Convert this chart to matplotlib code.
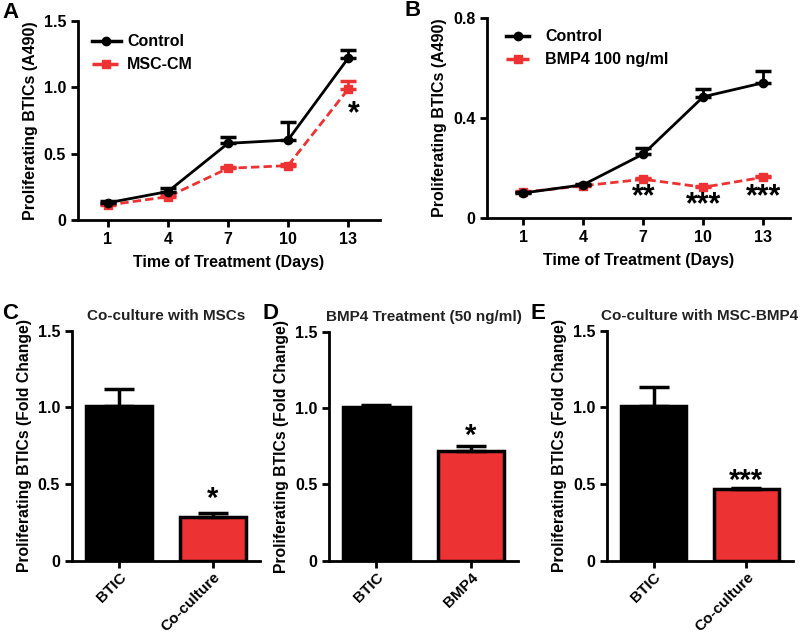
import numpy as np
import matplotlib
matplotlib.use("Agg")
import matplotlib.pyplot as plt
from matplotlib.lines import Line2D

plt.rcParams['font.family'] = ['Liberation Sans', 'DejaVu Sans']
plt.rcParams['font.weight'] = 'bold'
plt.rcParams['axes.labelweight'] = 'bold'

RED = '#ec3232'

# Panel A / B data (days, means, upper errors)
days = [1, 4, 7, 10, 13]
a_control = [0.13, 0.215, 0.578, 0.603, 1.218]
a_control_err = [0.01, 0.025, 0.045, 0.135, 0.06]
a_msc = [0.113, 0.176, 0.39, 0.41, 0.985]
a_msc_err = [0.005, 0.01, 0.01, 0.01, 0.065]

b_control = [0.10, 0.133, 0.256, 0.485, 0.541]
b_control_err = [0.005, 0.005, 0.022, 0.03, 0.048]
b_bmp4 = [0.103, 0.129, 0.155, 0.123, 0.163]
b_bmp4_err = [0.004, 0.004, 0.004, 0.004, 0.004]
b_stars = ['', '', '**', '***', '***']
b_star_y = [0, 0, 0.085, 0.05, 0.085]

# Panel C / D / E data
c_labels = ['BTIC', 'Co-culture']
c_vals = [1.01, 0.283]
c_err = [0.108, 0.03]
d_labels = ['BTIC', 'BMP4']
d_vals = [1.01, 0.72]
d_err = [0.01, 0.035]
e_labels = ['BTIC', 'Co-culture']
e_vals = [1.01, 0.466]
e_err = [0.12, 0.006]


def style_axes(ax):
    for s in ['top', 'right']:
        ax.spines[s].set_visible(False)
    for s in ['left', 'bottom']:
        ax.spines[s].set_linewidth(2)
    ax.tick_params(width=2, length=5, labelsize=11.5)
    for t in ax.get_xticklabels() + ax.get_yticklabels():
        t.set_fontweight('bold')


def line_panel(ax, ctrl, ctrl_err, trt, trt_err, trt_label, ymax, yticks, ytl, xlim,
               leg_xy, hlen, hpad):
    dash = (0, (3, 1.5))
    ax.errorbar(days, ctrl, yerr=[np.zeros(len(ctrl)), ctrl_err], color='black',
                marker='o', ms=6, lw=2, capsize=6, capthick=2.5, elinewidth=2, zorder=3)
    ax.errorbar(days, trt, yerr=[np.zeros(len(trt)), trt_err], color=RED,
                marker='s', ms=6, lw=2, ls=dash, capsize=6, capthick=2.5,
                elinewidth=2, zorder=2)
    ax.set_xlim(*xlim)
    ax.set_ylim(0, ymax)
    ax.set_xticks(days)
    ax.set_yticks(yticks)
    ax.set_yticklabels(ytl)
    ax.set_xlabel('Time of Treatment (Days)', fontsize=11.5, labelpad=6)
    ax.set_ylabel('Proliferating BTICs (A490)', fontsize=11.5)
    handles = [Line2D([], [], color='black', marker='o', ms=6, lw=2.5),
               Line2D([], [], color=RED, marker='s', ms=6, lw=2.5, ls=dash)]
    leg = ax.legend(handles, ['Control', trt_label], loc='upper left', frameon=False,
                    fontsize=11.5, handlelength=hlen, handletextpad=hpad,
                    borderaxespad=0, bbox_to_anchor=leg_xy)
    for t in leg.get_texts():
        t.set_fontweight('bold')
    style_axes(ax)


def bar_panel(ax, labels, vals, err, title, stars, star_y):
    x = np.arange(len(vals))
    ax.bar(x, vals, width=0.7, color=['black', RED], edgecolor='black', linewidth=2.5)
    ax.errorbar(x, vals, yerr=[np.zeros(len(vals)), err], fmt='none', ecolor='black',
                elinewidth=2.5, capsize=11, capthick=2.5)
    ax.text(1, star_y, stars, ha='center', va='center', fontsize=21, fontweight='bold')
    ax.set_xlim(-0.5, 1.5)
    ax.set_ylim(0, 1.5)
    ax.set_yticks([0, 0.5, 1.0, 1.5])
    ax.set_yticklabels(['0', '0.5', '1.0', '1.5'])
    ax.set_xticks(x)
    ax.set_xticklabels(labels, rotation=45, ha='right', rotation_mode='anchor')
    ax.set_ylabel('Proliferating BTICs (Fold Change)', fontsize=11.3)
    ax.set_title(title, fontsize=11, fontweight='bold', color='#222222', pad=8)
    style_axes(ax)
    ax.tick_params(axis='x', labelsize=11, pad=2)


fig = plt.figure(figsize=(8, 6.33), dpi=100)

axA = fig.add_axes([0.0975, 0.6524, 0.3775, 0.3144])
line_panel(axA, a_control, a_control_err, a_msc, a_msc_err, 'MSC-CM',
           1.5, [0, 0.5, 1.0, 1.5], ['0', '0.5', '1.0', '1.5'], (-0.5, 14.6),
           (0.025, 0.965), 1.8, 0.4)
axA.text(13.3, 0.80, '*', ha='center', va='center', fontsize=22, fontweight='bold')

axB = fig.add_axes([0.609, 0.6556, 0.379, 0.316])
line_panel(axB, b_control, b_control_err, b_bmp4, b_bmp4_err, 'BMP4 100 ng/ml',
           0.8, [0, 0.4, 0.8], ['0', '0.4', '0.8'], (-0.8, 14.35),
           (0.042, 0.975), 1.45, 1.0)
for d, s, y in zip(days, b_stars, b_star_y):
    if s:
        axB.text(d, y, s, ha='center', va='center', fontsize=22, fontweight='bold')

axC = fig.add_axes([0.09, 0.1142, 0.235, 0.3634])
bar_panel(axC, c_labels, c_vals, c_err, 'Co-culture with MSCs', '*', 0.40)
axD = fig.add_axes([0.4116, 0.1142, 0.236, 0.3614])
bar_panel(axD, d_labels, d_vals, d_err, 'BMP4 Treatment (50 ng/ml)', '*', 0.82)
axE = fig.add_axes([0.759, 0.1142, 0.232, 0.3634])
bar_panel(axE, e_labels, e_vals, e_err, 'Co-culture with MSC-BMP4', '***', 0.52)

# panel letters
for letter, (x, y) in zip('ABCDE', [(0.003, 0.98), (0.505, 0.983), (0.003, 0.505),
                                    (0.328, 0.505), (0.663, 0.505)]):
    fig.text(x, y, letter, fontsize=16, fontweight='bold', ha='left', va='center')

fig.savefig('out.png', dpi=100)
